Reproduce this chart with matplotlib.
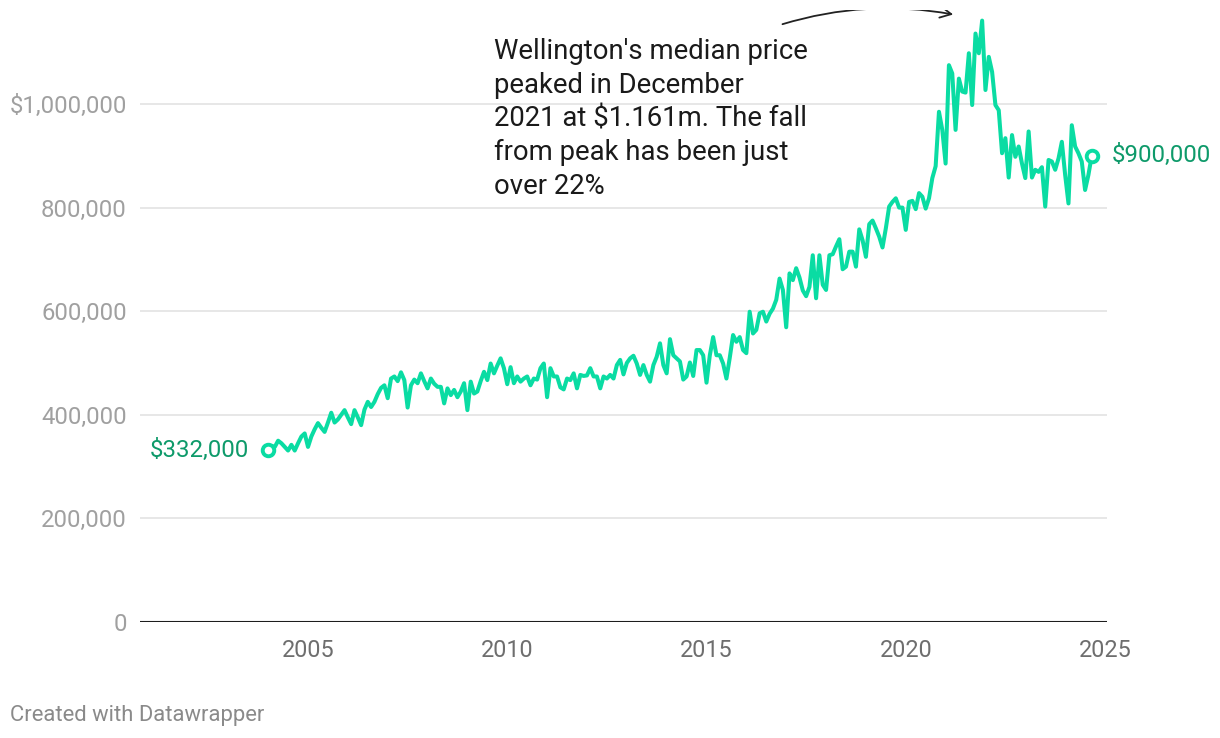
import matplotlib
matplotlib.use("Agg")
import matplotlib.pyplot as plt
from matplotlib.patches import FancyArrowPatch
from matplotlib.ticker import FuncFormatter

plt.rcParams['font.family'] = ['Roboto', 'DejaVu Sans']

# Wellington median house price, monthly from Jan 2004 to Sep 2024 (in $000)
start_year = 2004
median_price_k = [
    332, 340, 338, 350, 345, 338, 331, 342, 331, 345, 358, 364,            # 2004
    338, 358, 372, 384, 375, 367, 385, 404, 385, 391, 400, 409,            # 2005
    395, 382, 409, 395, 380, 410, 425, 415, 425, 440, 452, 457,            # 2006
    432, 470, 474, 465, 482, 467, 414, 457, 468, 461, 480, 465,            # 2007
    451, 470, 460, 454, 454, 422, 451, 438, 448, 434, 445, 461,            # 2008
    409, 464, 441, 445, 465, 483, 467, 499, 480, 495, 509, 490,            # 2009
    459, 492, 461, 474, 464, 470, 474, 457, 470, 468, 490, 499,            # 2010
    434, 490, 474, 474, 453, 449, 470, 467, 480, 451, 477, 475,            # 2011
    476, 490, 474, 474, 451, 474, 470, 477, 470, 496, 506, 478,            # 2012
    500, 509, 514, 499, 477, 496, 477, 464, 496, 512, 538, 496,            # 2013
    480, 546, 515, 509, 503, 468, 474, 501, 475, 525, 525, 515,            # 2014
    462, 515, 550, 515, 515, 499, 470, 510, 554, 541, 550, 525,            # 2015
    519, 599, 557, 564, 596, 599, 580, 595, 605, 622, 663, 641,            # 2016
    569, 673, 660, 683, 665, 640, 629, 647, 708, 625, 708, 651,            # 2017
    641, 708, 710, 725, 739, 681, 686, 715, 715, 686, 758, 737,            # 2018
    705, 768, 775, 760, 744, 723, 760, 802, 811, 818, 800, 800,            # 2019
    757, 811, 813, 797, 828, 821, 798, 818, 857, 880, 985, 950,            # 2020
    885, 1075, 1059, 950, 1049, 1024, 1022, 1098, 998, 1136, 1098, 1161,   # 2021
    1027, 1091, 1062, 998, 988, 905, 934, 858, 940, 898, 918, 885,         # 2022
    857, 947, 858, 873, 869, 878, 802, 892, 889, 873, 895, 927,            # 2023
    863, 808, 959, 918, 905, 889, 834, 863, 900,                           # 2024
]

year_ticks = [2005, 2010, 2015, 2020, 2025]
price_ticks = [0, 200_000, 400_000, 600_000, 800_000, 1_000_000]

note = ("Wellington's median price\npeaked in December\n2021 at $1.161m. The fall\n"
        "from peak has been just\nover 22%")
credit = "Created with Datawrapper"

LINE = '#0adca3'
LABEL = '#0e9a6a'

months = [start_year + i / 12 for i in range(len(median_price_k))]
prices = [v * 1000 for v in median_price_k]

W, H = 1220, 738
fig = plt.figure(figsize=(W / 100, H / 100), dpi=100)
ax = fig.add_axes([140 / W, 116 / H, 967 / W, 612 / H])
ax.set_xlim(2000.784, 2025.05)
ax.set_ylim(0, 612 / 0.000518)

for s in ax.spines.values():
    s.set_visible(False)

# gridlines + baseline
for t in price_ticks[1:]:
    ax.axhline(t, color='#e3e3e3', lw=1.2, zorder=0)
ax.axhline(0, color='#1d1d1d', lw=1.5, zorder=2)

ax.set_yticks(price_ticks)
ax.yaxis.set_major_formatter(FuncFormatter(
    lambda v, _: f"${v:,.0f}" if v == price_ticks[-1] else f"{v:,.0f}"))
ax.tick_params(axis='y', length=0, pad=9.5, labelsize=17.2, labelcolor='#a0a0a0')
ax.set_xticks(year_ticks)
ax.tick_params(axis='x', length=0, pad=12, labelsize=16.8, labelcolor='#6e6e6e')

ax.plot(months, prices, color=LINE, lw=2.9, solid_joinstyle='round', zorder=3)

# open circles on first and last point
for i in (0, -1):
    ax.plot(months[i], prices[i], 'o', ms=8.3, mfc='white', mec=LINE, mew=2.8, zorder=4)

ax.annotate(f"${prices[0]:,}", (months[0], prices[0]), xytext=(-13.5, 0),
            textcoords='offset points', ha='right', va='center',
            fontsize=17.3, color=LABEL)
ax.annotate(f"${prices[-1]:,}", (months[-1], prices[-1]), xytext=(14.5, 0),
            textcoords='offset points', ha='left', va='center',
            fontsize=17.3, color=LABEL)

fig.text(494 / W, 1 - 119 / H, note, ha='left', va='center', fontsize=19.8,
         color='#1a1a1a', linespacing=1.33)

# curved arrow pointing at the peak, clipped at the top of the plot area
arrow = FancyArrowPatch((2016.84, 1152_500), (2021.26, 1171_800),
                        connectionstyle='arc3,rad=-0.125', arrowstyle='->',
                        mutation_scale=20, lw=1.3, color='#222222', zorder=5)
ax.add_patch(arrow)

fig.text(10 / W, 1 - 715 / H, credit, ha='left', va='center', fontsize=15.8,
         color='#8a8a8a')

fig.savefig('out.png', dpi=100)
